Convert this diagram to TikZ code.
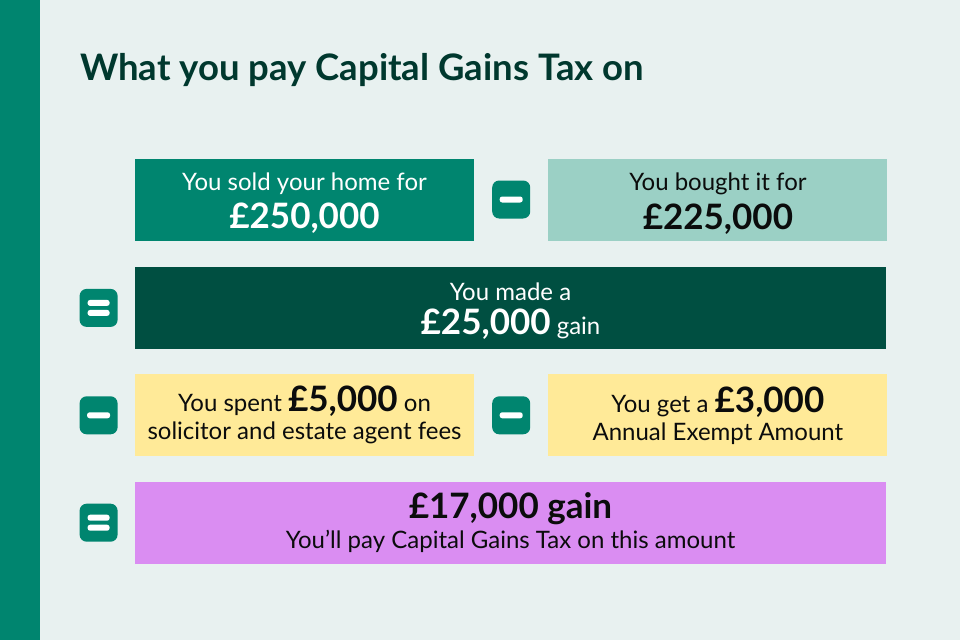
\documentclass[tikz,border=0pt]{standalone}
\usepackage{fontspec}
\setmainfont{Lato}
\usetikzlibrary{positioning,calc}

\definecolor{pagebg}{HTML}{E8F1F0}
\definecolor{cgtgreen}{HTML}{00856F}
\definecolor{cgtpale}{HTML}{9BD0C5}
\definecolor{cgtdark}{HTML}{004F41}
\definecolor{cgttitle}{HTML}{00382E}
\definecolor{cgtyellow}{HTML}{FFEA98}
\definecolor{cgtpurple}{HTML}{DA8DF2}
\definecolor{cgtink}{HTML}{0B0C0C}

\newcommand{\bignum}[1]{{\fontsize{35}{38}\selectfont\bfseries #1}}
\newcommand{\headstrut}{\rule{0pt}{25pt}}

\tikzset{
    box/.style={minimum width=339pt, minimum height=82pt, inner sep=0pt,
        align=center, text=cgtink, font=\fontsize{24}{28}\selectfont},
    widebox/.style={box, minimum width=751pt},
    sign/.style={fill=cgtgreen, rounded corners=7pt, minimum size=38pt, inner sep=0pt},
    minus/.style={sign, path picture={
        \fill[white, rounded corners=2.5pt]
            ([xshift=-11.5pt, yshift=-3pt]path picture bounding box.center) rectangle ++(23pt, 6pt);}},
    equals/.style={sign, path picture={
        \fill[white, rounded corners=2.5pt]
            ([xshift=-11pt, yshift=2pt]path picture bounding box.center) rectangle ++(22pt, 6pt);
        \fill[white, rounded corners=2.5pt]
            ([xshift=-11pt, yshift=-8pt]path picture bounding box.center) rectangle ++(22pt, 6pt);}},
}

\begin{document}
\begin{tikzpicture}[x=1pt, y=-1pt]
    \useasboundingbox (0, 0) rectangle (960, 640);
    \fill[pagebg] (0, 0) rectangle (960, 640);
    \fill[cgtgreen] (0, 0) rectangle (40, 640);

    \node[anchor=base west, text=cgttitle, font=\fontsize{36.5}{42}\selectfont\bfseries, inner sep=0pt]
        (title) at (80, 80) {What you pay Capital Gains Tax on};

    % row 1
    \node[box, fill=cgtgreen, text=white] (sold) at (304.5, 199.5)
        {\headstrut You sold your home for\\[8pt] \bignum{£250,000}};
    \node[box, fill=cgtpale, right=74pt of sold] (bought)
        {\headstrut You bought it for\\[8pt] \bignum{£225,000}};
    \node[minus] (m1) at ($(sold.east)!0.5!(bought.west)$) {};

    % row 2
    \node[widebox, fill=cgtdark, text=white, below=26pt of sold.south west, anchor=north west] (made)
        {\headstrut You made a\\[6pt] \bignum{£25,000} gain};
    \node[equals, left=17pt of made] (e1) {};

    % row 3
    \node[box, fill=cgtyellow, below=25pt of made.south west, anchor=north west] (spent)
        {You spent \bignum{£5,000} on\\ solicitor and estate agent fees};
    \node[box, fill=cgtyellow, right=74pt of spent] (exempt)
        {You get a \bignum{£3,000}\\ Annual Exempt Amount};
    \node[minus, left=17pt of spent] (m2) {};
    \node[minus] (m3) at ($(spent.east)!0.5!(exempt.west)$) {};

    % row 4
    \node[widebox, fill=cgtpurple, below=25pt of spent.south west, anchor=north west] (result)
        {\bignum{£17,000 gain}\\[2pt] You’ll pay Capital Gains Tax on this amount};
    \node[equals, left=17pt of result] (e2) {};
\end{tikzpicture}
\end{document}
